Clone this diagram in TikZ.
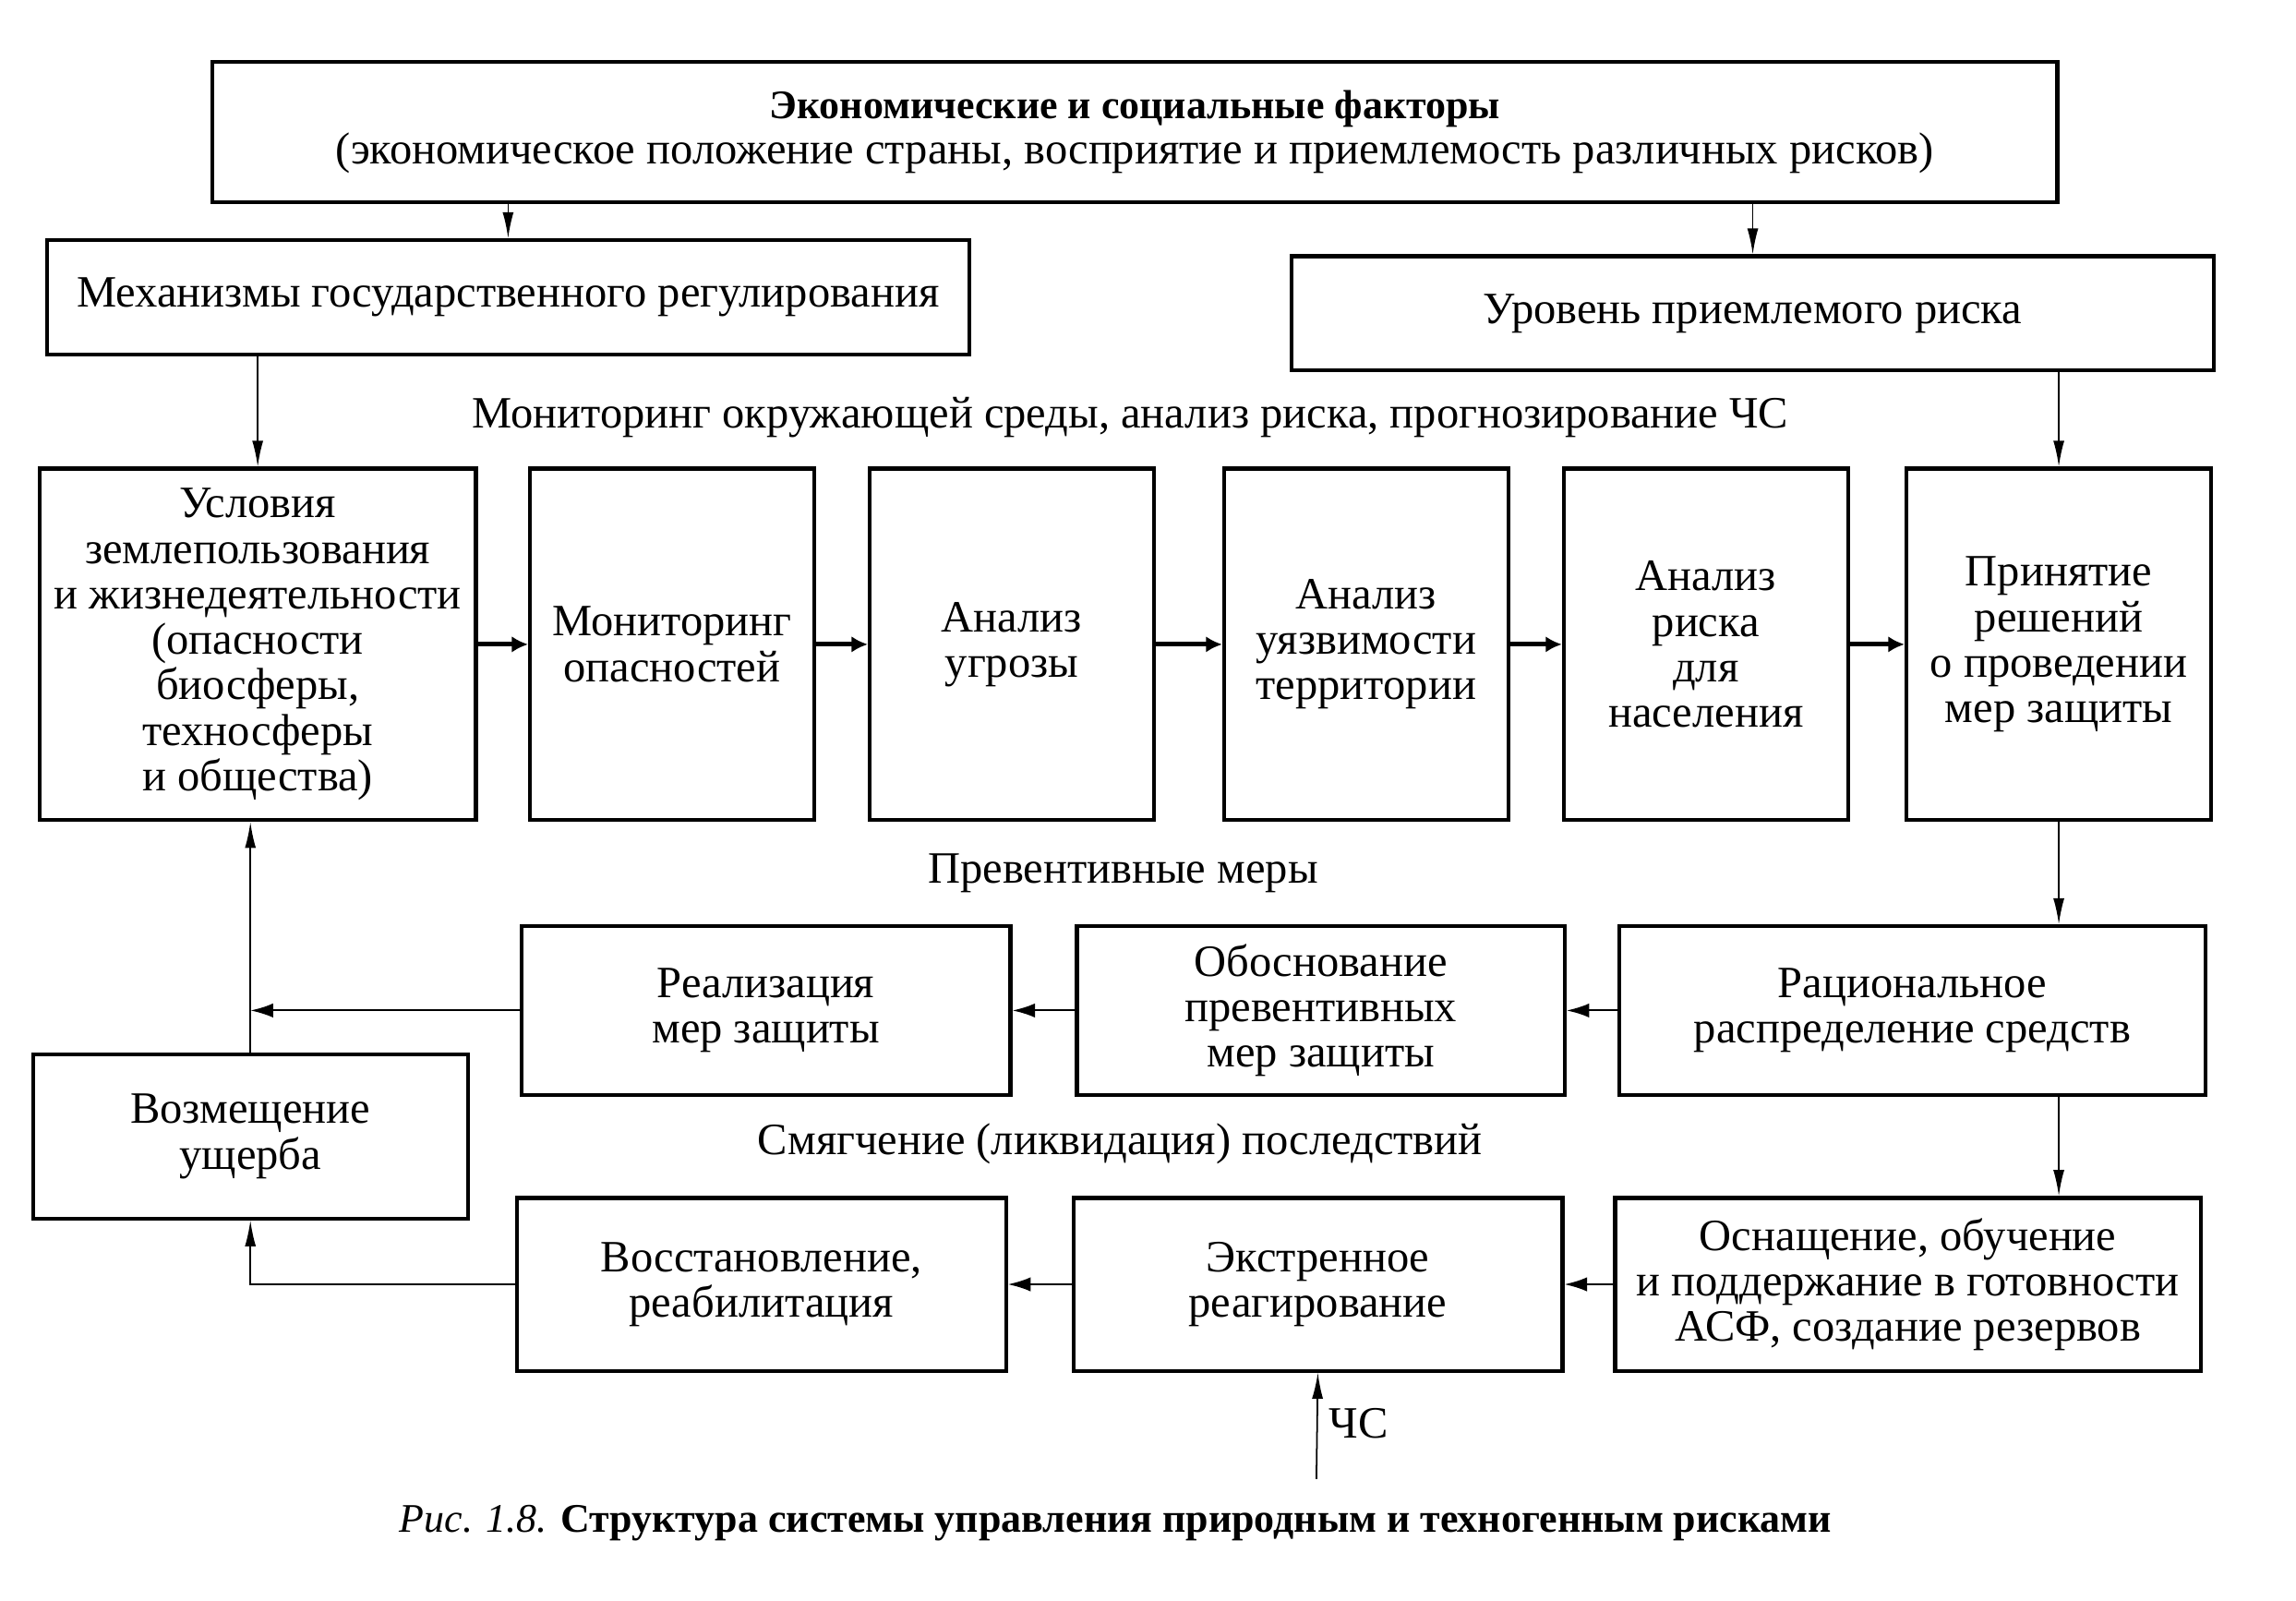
\documentclass[tikz,border=0pt]{standalone}
\usepackage{fontspec}
\setmainfont{Liberation Serif}
\usetikzlibrary{arrows.meta,calc}

\begin{document}
\begin{tikzpicture}[x=0.01586cm,y=-0.01586cm,
    font=\fontsize{13.8}{14}\selectfont,
    bloc/.style={draw,line width=1.2pt,align=center,inner sep=0pt},
    taille/.style 2 args={minimum width=#1*0.01586cm,minimum height=#2*0.01586cm},
    fl/.style={-{Latex[length=8pt,width=3.4pt]},line width=0.5pt},
    flm/.style={-{Latex[length=7pt,width=4.4pt]},line width=0.6pt},
    flg/.style={-{Latex[length=5pt,width=5pt]},line width=1.4pt}]
          \useasboundingbox (0,0) rectangle (1568,1093);
          %FACTEURS
          \node[bloc,taille={1260}{96}] (eco) at (775,90) {{\fontsize{12.5}{14}\selectfont\bfseries Экономические и социальные факторы}\\(экономическое положение страны, восприятие и приемлемость различных рисков)};
          \node[bloc,taille={630}{78}] (meca) at (347,203) {Механизмы государственного регулирования};
          \node[bloc,taille={630}{78}] (niveau) at (1197,214) {Уровень приемлемого риска};
          \node (surv) at (772,285) {Мониторинг окружающей среды, анализ риска, прогнозирование ЧС};
          %LIGNE 1
          \node[bloc,taille={298}{240}] (cond) at (176,440) {Условия\\землепользования\\и жизнедеятельности\\(опасности\\биосферы,\\техносферы\\и общества)};
          \node[bloc,taille={194}{240}] (moni) at (459,440) {Мониторинг\\опасностей};
          \node[bloc,taille={194}{240}] (menace) at (691,440) {Анализ\\угрозы};
          \node[bloc,taille={194}{240}] (vuln) at (933,440) {Анализ\\уязвимости\\территории};
          \node[bloc,taille={194}{240}] (risque) at (1165,440) {Анализ\\риска\\для\\населения};
          \node[bloc,taille={208}{240}] (decis) at (1406,440) {Принятие\\решений\\о проведении\\мер защиты};
          \node (prev) at (767,596) {Превентивные меры};
          %LIGNE 2
          \node[bloc,taille={334}{115}] (real) at (523,690) {Реализация\\мер защиты};
          \node[bloc,taille={333}{115}] (justif) at (902,690) {Обоснование\\превентивных\\мер защиты};
          \node[bloc,taille={400}{115}] (repart) at (1306,690) {Рациональное\\распределение средств};
          \node[bloc,taille={297}{112}] (indem) at (171,776) {Возмещение\\ущерба};
          \node (attn) at (765,781) {Смягчение (ликвидация) последствий};
          %LIGNE 3
          \node[bloc,taille={334}{118}] (retab) at (520,877) {Восстановление,\\реабилитация};
          \node[bloc,taille={334}{118}] (urg) at (900,877) {Экстренное\\реагирование};
          \node[bloc,taille={400}{118}] (equip) at (1303,877) {Оснащение, обучение\\и поддержание в готовности\\АСФ, создание резервов};
          \coordinate (cs) at (899,1010);
          \node (cslab) at (928,972) {ЧС};
          \node[font=\fontsize{12.5}{14}\selectfont] (legende) at (762,1040) {\textit{Рис. 1.8.} \textbf{Структура системы управления природным и техногенным рисками}};
          %FLECHES
          \draw[fl] (eco.south -| meca.north) -- (meca.north);
          \draw[fl] (eco.south -| niveau.north) -- (niveau.north);
          \draw[fl] (meca.south -| cond.north) -- (cond.north);
          \draw[fl] (niveau.south -| decis.north) -- (decis.north);
          \draw[flg] (cond.east) -- (moni.west);
          \draw[flg] (moni.east) -- (menace.west);
          \draw[flg] (menace.east) -- (vuln.west);
          \draw[flg] (vuln.east) -- (risque.west);
          \draw[flg] (risque.east) -- (decis.west);
          \draw[fl] (decis.south) -- (decis.south |- repart.north);
          \draw[flm] (repart.west) -- (justif.east);
          \draw[flm] (justif.west) -- (real.east);
          \draw[flm] (real.west) -- (indem.north |- real.west);
          \draw[fl] (indem.north) -- (indem.north |- cond.south);
          \draw[fl] (decis.south |- repart.south) -- (decis.south |- equip.north);
          \draw[flm] (equip.west) -- (urg.east);
          \draw[flm] (urg.west) -- (retab.east);
          \draw[fl] (retab.west) -- (indem.south |- retab.west) -- (indem.south);
          \draw[fl] (cs) -- (urg.south);
\end{tikzpicture}
\end{document}
